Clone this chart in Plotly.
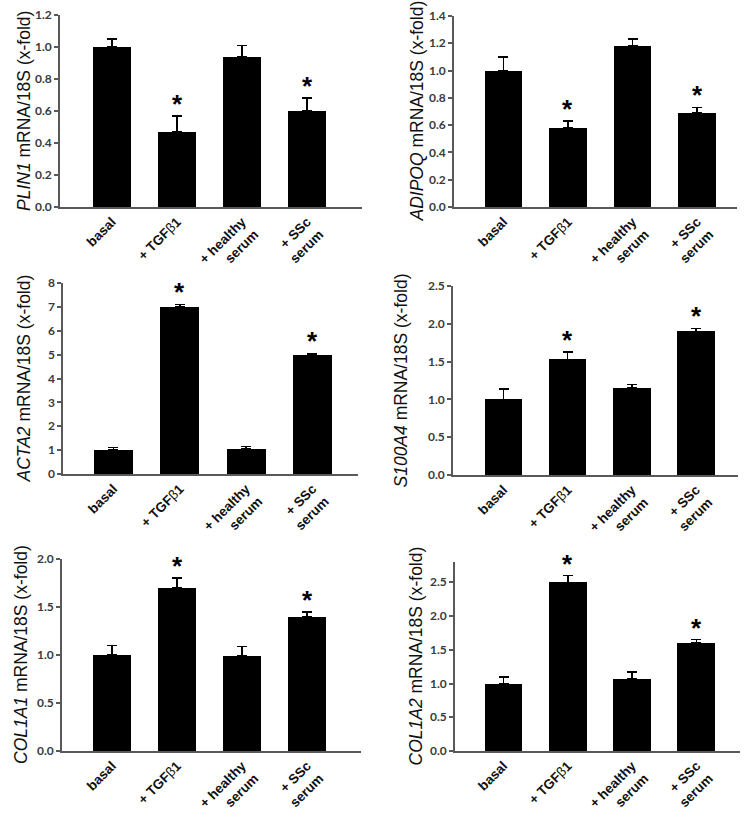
import plotly.graph_objects as go

W, H = 749, 823

categories = ["basal", "+ TGFβ1", "+ healthy serum", "+ SSc serum"]
tick_labels = ["basal", "+ TGF<span style=\"font-weight:normal\">β</span>1",
               "+ healthy<br>serum", "+ SSc<br>serum"]

genes = ["PLIN1", "ADIPOQ", "ACTA2", "S100A4", "COL1A1", "COL1A2"]

plin1_mean = [1.00, 0.47, 0.94, 0.60]
plin1_err = [0.05, 0.10, 0.07, 0.08]
adipoq_mean = [1.00, 0.58, 1.18, 0.69]
adipoq_err = [0.10, 0.05, 0.05, 0.04]
acta2_mean = [1.00, 7.00, 1.05, 5.00]
acta2_err = [0.10, 0.10, 0.10, 0.05]
s100a4_mean = [1.00, 1.53, 1.15, 1.90]
s100a4_err = [0.14, 0.10, 0.05, 0.04]
col1a1_mean = [1.00, 1.70, 0.99, 1.40]
col1a1_err = [0.10, 0.10, 0.10, 0.05]
col1a2_mean = [1.00, 2.50, 1.07, 1.60]
col1a2_err = [0.10, 0.10, 0.10, 0.05]

significant = [False, True, False, True]

y_max = [1.2, 1.4, 8, 2.5, 2.0, 2.8]
y_dtick = [0.2, 0.2, 1, 0.5, 0.5, 0.5]
y_fmt = [".1f", ".1f", "d", ".1f", ".1f", ".1f"]

means = [plin1_mean, adipoq_mean, acta2_mean, s100a4_mean, col1a1_mean, col1a2_mean]
errs = [plin1_err, adipoq_err, acta2_err, s100a4_err, col1a1_err, col1a2_err]

# layout geometry in pixels: (x_left, x_right, y_top, y_bottom, cat_start, cat_end, bar_width, title_cx)
geom = [
    (60, 362, 15, 207, -0.80, 3.846, 0.585, 24),
    (454, 737, 16, 207, -0.767, 3.62, 0.575, 417),
    (63, 358, 283, 474, -0.76, 3.686, 0.59, 23),
    (453, 738, 286, 475, -0.787, 3.654, 0.585, 400),
    (62, 361, 559, 751, -0.77, 3.83, 0.59, 21),
    (455, 740, 562, 751, -0.754, 3.677, 0.59, 415),
]

AX = "#595959"
fig = go.Figure()
annotations = []
for i in range(6):
    xl, xr, yt, yb, c0, c1, bw, tcx = geom[i]
    n = "" if i == 0 else str(i + 1)
    fig.add_trace(go.Bar(
        x=categories, y=means[i], width=bw,
        marker=dict(color="black", line=dict(width=0)),
        error_y=dict(type="data", symmetric=False, array=errs[i],
                     arrayminus=[0] * 4, color="black", thickness=1.5, width=5),
        xaxis="x" + n, yaxis="y" + n, showlegend=False, hoverinfo="skip",
    ))
    fig.update_layout(**{
        "xaxis" + n: dict(
            domain=[xl / W, xr / W], anchor="y" + n, type="category",
            range=[c0, c1], tickvals=categories, ticktext=tick_labels,
            tickangle=-45, ticks="", showline=True, linecolor=AX, linewidth=1.5,
            showgrid=False, zeroline=False, automargin=False,
            tickfont=dict(family="Liberation Sans, Arial", size=13.5, color="#111111", weight="bold"),
        ),
        "yaxis" + n: dict(
            domain=[1 - yb / H, 1 - yt / H], anchor="x" + n,
            range=[0, y_max[i]], dtick=y_dtick[i], tick0=0, tickformat=y_fmt[i],
            ticks="outside", ticklen=4, tickcolor=AX, tickwidth=1.5,
            showline=True, linecolor=AX, linewidth=1.5, showgrid=False, zeroline=False,
            automargin=False,
            tickfont=dict(family="Lato, Open Sans", size=12, color="#3a3a3a", weight="bold"),
        ),
    })
    annotations.append(dict(
        xref="paper", yref="paper", x=tcx / W, y=1 - (yt + yb) / 2 / H,
        text="<i>" + genes[i] + "</i> mRNA/18S (x-fold)", textangle=-90,
        showarrow=False, xanchor="center", yanchor="middle",
        font=dict(family="Liberation Sans, Arial", size=17.5, color="#111111"),
    ))
    for j in range(4):
        if significant[j]:
            annotations.append(dict(
                xref="x" + n, yref="y" + n, x=categories[j], y=means[i][j] + errs[i][j],
                text="<b>*</b>", showarrow=False, xanchor="center", yanchor="bottom",
                yshift=-5,
                font=dict(family="Liberation Sans, Arial", size=26, color="black"),
            ))

fig.update_layout(
    width=W, height=H, margin=dict(l=0, r=0, t=0, b=0),
    paper_bgcolor="white", plot_bgcolor="white",
    annotations=annotations, bargap=0,
)
fig.write_html("out.html", config={"displayModeBar": False},
               post_script="document.body.style.margin='0px';")
